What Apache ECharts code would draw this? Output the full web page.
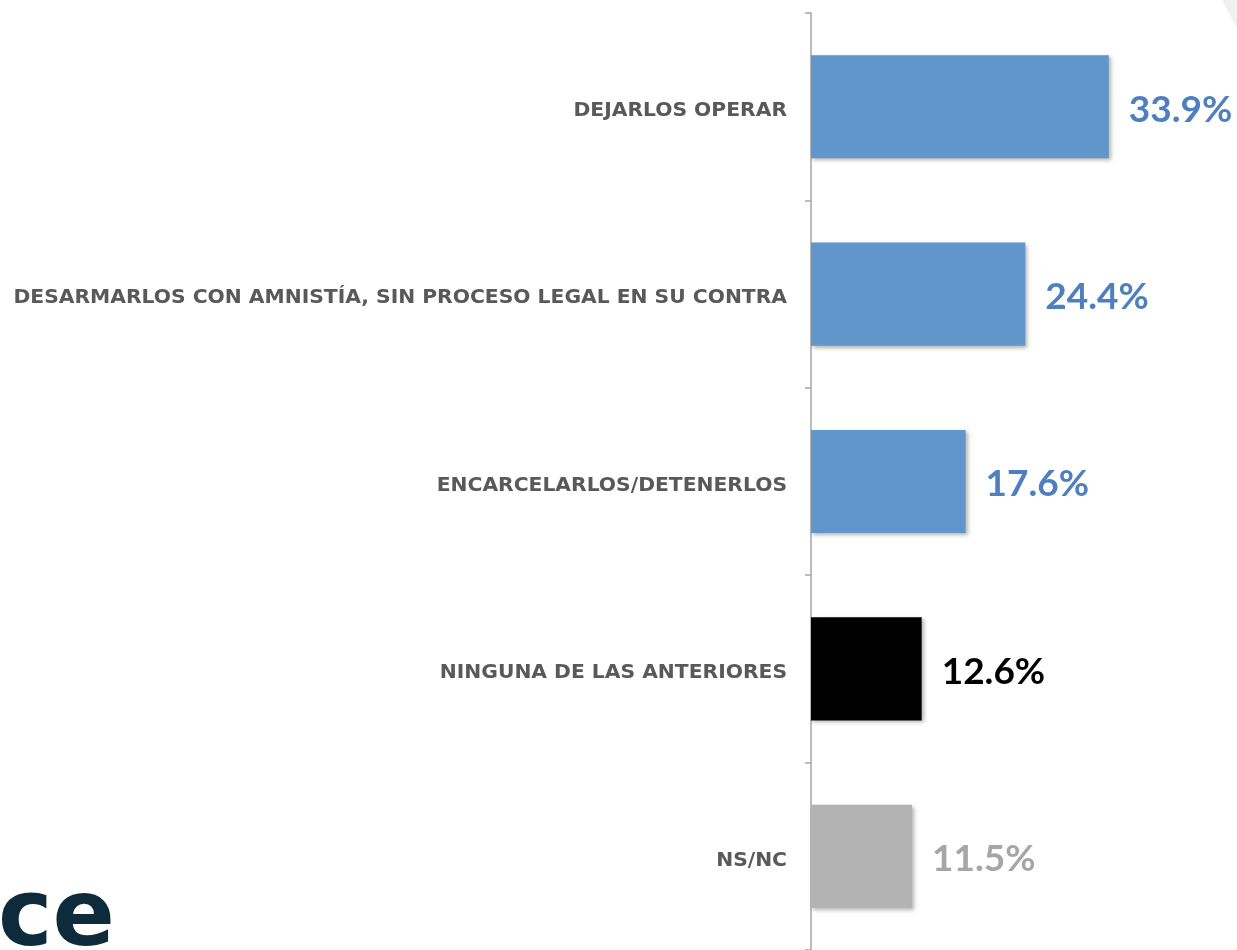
<!DOCTYPE html>
<html>
<head>
<meta charset="utf-8">
<script src="https://cdn.jsdelivr.net/npm/echarts@6/dist/echarts.min.js"></script>
<style>
  html, body { margin: 0; padding: 0; background: #fff; }
  #chart { width: 1237px; height: 950px; }
</style>
</head>
<body>
<div id="chart"></div>
<script>
var myChart = echarts.init(document.getElementById('chart'));

// categorias y valores (%)
var categorias = [
  'DEJARLOS OPERAR',
  'DESARMARLOS CON AMNISTÍA, SIN PROCESO LEGAL EN SU CONTRA',
  'ENCARCELARLOS/DETENERLOS',
  'NINGUNA DE LAS ANTERIORES',
  'NS/NC'
];
var valores = [33.9, 24.4, 17.6, 12.6, 11.5];
var coloresBarra = ['#6096c9', '#6096c9', '#6096c9', '#000000', '#b3b3b3'];
var coloresTexto = ['#4f7fbf', '#4f7fbf', '#4f7fbf', '#000000', '#a6a6a6'];

var datos = valores.map(function (v, i) {
  return {
    value: v,
    itemStyle: { color: coloresBarra[i] },
    label: { color: coloresTexto[i] }
  };
});

var option = {
  backgroundColor: '#ffffff',
  animation: false,
  grid: { left: 811, right: 0, top: 13, bottom: -3 },
  xAxis: {
    type: 'value',
    min: 0,
    max: 48.5,
    show: false
  },
  yAxis: {
    type: 'category',
    inverse: true,
    data: categorias,
    axisLine: { show: true, lineStyle: { color: '#a6a6a6', width: 1.5 } },
    axisTick: { show: true, length: 6, lineStyle: { color: '#a6a6a6', width: 1.5 } },
    axisLabel: {
      margin: 24,
      formatter: function (v) { return '{c|' + v + '}'; },
      rich: {
        c: {
          padding: [8, 0, 0, 0],
          fontFamily: 'DejaVu Sans',
          fontWeight: 'bold',
          fontSize: 20.3,
          color: '#595959'
        }
      }
    }
  },
  series: [{
    type: 'bar',
    data: datos,
    barCategoryGap: '45%',
    itemStyle: {
      shadowBlur: 4,
      shadowOffsetX: 2,
      shadowOffsetY: 2,
      shadowColor: 'rgba(0,0,0,0.3)'
    },
    label: {
      show: true,
      position: 'right',
      distance: 20,
      offset: [0, 3],
      fontFamily: 'Lato',
      fontWeight: 'bold',
      fontSize: 37,
      formatter: function (p) { return p.value.toFixed(1) + '%'; }
    }
  }],
  graphic: [
    {
      type: 'text',
      left: -2,
      top: 875,
      style: { text: 'ce', font: 'bold 92px "DejaVu Sans"', fill: '#0d2b3b' }
    },
    {
      type: 'polygon',
      shape: { points: [[1222, 0], [1237, 0], [1237, 28]] },
      style: { fill: '#f0f0f0' }
    }
  ]
};

myChart.setOption(option);
window.addEventListener('resize', function () { myChart.resize(); });
</script>
</body>
</html>
